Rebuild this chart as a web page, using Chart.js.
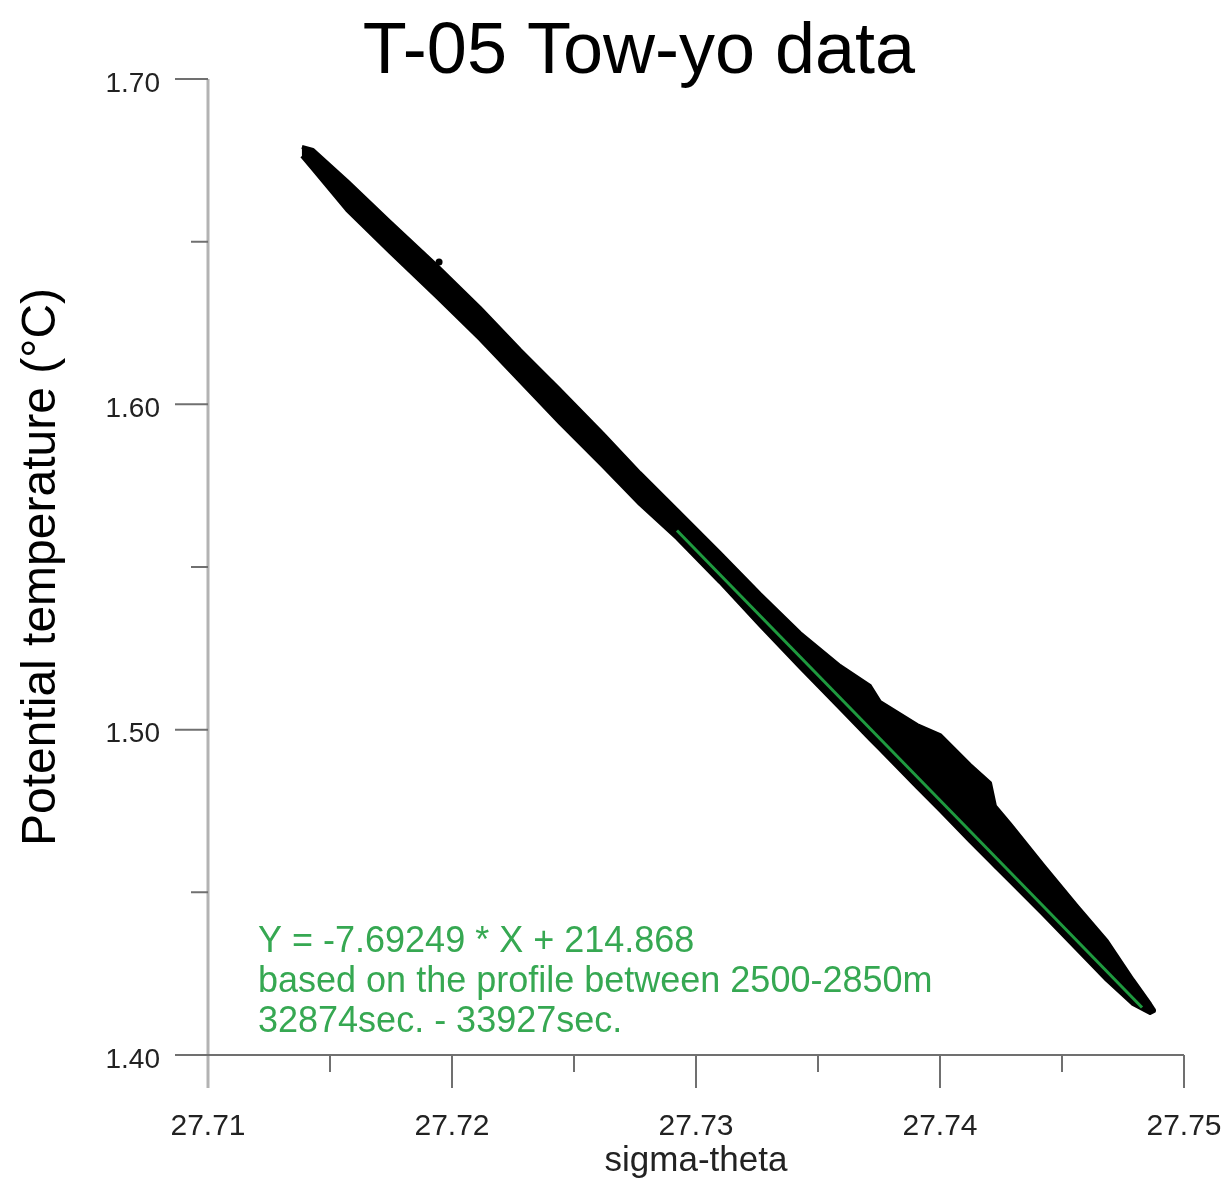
<!DOCTYPE html>
<html>
<head>
<meta charset="utf-8">
<title>T-05 Tow-yo data</title>
<script src="https://cdn.jsdelivr.net/npm/chart.js@4.4.1/dist/chart.umd.min.js"></script>
<style>
    html, body { margin: 0; padding: 0; background: #fff; }
    #wrap { width: 1227px; height: 1189px; position: relative; }
</style>
</head>
<body>
<div id="wrap"><canvas id="towyoChart"></canvas></div>
<script>
// axis ranges and ticks
const sigmaMin = 27.71, sigmaMax = 27.75;
const thetaMin = 1.40, thetaMax = 1.70;
const sigmaTicks = [27.71, 27.72, 27.73, 27.74, 27.75];
const sigmaMinorTicks = [27.715, 27.725, 27.735, 27.745];
const thetaTicks = [1.40, 1.50, 1.60, 1.70];
const thetaMinorTicks = [1.45, 1.55, 1.65];

// outline of the tow-yo point cloud, upper and lower edge
const edgeSigma = [27.71385, 27.71430, 27.71570, 27.71746, 27.71939, 27.72115, 27.72279, 27.72443,
    27.72619, 27.72770, 27.72922, 27.73098, 27.73262, 27.73426, 27.73590, 27.73713, 27.73754,
    27.73906, 27.74000, 27.74123, 27.74205, 27.74225, 27.74287, 27.74422, 27.74561, 27.74684,
    27.74791, 27.74861, 27.74877];
const thetaUpper = [1.67910, 1.67818, 1.66865, 1.65604, 1.64252, 1.62961, 1.61670, 1.60440,
    1.59088, 1.57889, 1.56752, 1.55430, 1.54170, 1.52971, 1.51957, 1.51342, 1.50850,
    1.50143, 1.49836, 1.48914, 1.48360, 1.47653, 1.47100, 1.45840, 1.44580, 1.43504,
    1.42305, 1.41567, 1.41383];
const thetaLower = [1.67633, 1.67234, 1.65973, 1.64682, 1.63299, 1.62008, 1.60717, 1.59426,
    1.58104, 1.56936, 1.55891, 1.54539, 1.53217, 1.51926, 1.50666, 1.49713, 1.49406,
    1.48237, 1.47531, 1.46578, 1.45963, 1.45809, 1.45348, 1.44334, 1.43258, 1.42305,
    1.41567, 1.41291, 1.41352];

// stray point near the top of the cloud
const straySigma = [27.71947];
const strayTheta = [1.64375];

// linear fit, 2500-2850m
const fitSigma = [27.72922, 27.74828];
const fitTheta = [1.5612, 1.4146];

const fitLabel = [
    'Y = -7.69249 * X + 214.868',
    'based on the profile between 2500-2850m',
    '32874sec. - 33927sec.'
];

Chart.defaults.font.family = "'Liberation Sans', Arial, sans-serif";

// closed outline: along the upper edge, back along the lower edge
const bandPoints = edgeSigma.map((s, i) => ({ x: s, y: thetaUpper[i] }))
    .concat(edgeSigma.map((s, i) => ({ x: s, y: thetaLower[i] })).reverse());
const fitPoints = fitSigma.map((s, i) => ({ x: s, y: fitTheta[i] }));
const strayPoints = straySigma.map((s, i) => ({ x: s, y: strayTheta[i] }));

// tick marks, axis lines, title and fit note
const axisMarks = {
    id: 'axisMarks',
    afterDraw(chart) {
        const { ctx, scales: { x, y } } = chart;
        const left = x.getPixelForValue(sigmaMin);
        const right = x.getPixelForValue(sigmaMax);
        const top = y.getPixelForValue(thetaMax);
        const bottom = y.getPixelForValue(thetaMin);
        const major = 33, minor = 17;

        ctx.save();
        ctx.lineCap = 'butt';

        // y axis
        ctx.strokeStyle = '#b3b3b3';
        ctx.lineWidth = 3;
        ctx.beginPath();
        ctx.moveTo(left, top);
        ctx.lineTo(left, bottom + major);
        ctx.stroke();

        // x axis
        ctx.strokeStyle = '#707070';
        ctx.lineWidth = 2;
        ctx.beginPath();
        ctx.moveTo(left - major, bottom);
        ctx.lineTo(right, bottom);
        ctx.stroke();

        ctx.beginPath();
        sigmaTicks.slice(1).forEach(v => {
            const px = x.getPixelForValue(v);
            ctx.moveTo(px, bottom);
            ctx.lineTo(px, bottom + major);
        });
        sigmaMinorTicks.forEach(v => {
            const px = x.getPixelForValue(v);
            ctx.moveTo(px, bottom);
            ctx.lineTo(px, bottom + minor);
        });
        thetaTicks.slice(1).forEach(v => {
            const py = y.getPixelForValue(v);
            ctx.moveTo(left - major, py);
            ctx.lineTo(left, py);
        });
        thetaMinorTicks.forEach(v => {
            const py = y.getPixelForValue(v);
            ctx.moveTo(left - minor, py);
            ctx.lineTo(left, py);
        });
        ctx.stroke();

        // title
        ctx.fillStyle = '#000';
        ctx.font = "72px 'Liberation Sans', Arial, sans-serif";
        ctx.textAlign = 'center';
        ctx.textBaseline = 'alphabetic';
        ctx.fillText('T-05 Tow-yo data', 639, 73);

        // fit note
        ctx.fillStyle = '#36a852';
        ctx.font = "36px 'Liberation Sans', Arial, sans-serif";
        ctx.textAlign = 'left';
        fitLabel.forEach((t, i) => {
            ctx.fillText(t, 258, 952 + i * 40);
        });
        ctx.restore();
    }
};

const newChart = new Chart(document.getElementById('towyoChart'), {
    type: 'scatter',
    data: {
        datasets: [{
            label: 'fit',
            data: fitPoints,
            showLine: true,
            borderColor: '#1f9a3f',
            borderWidth: 3,
            pointRadius: 0,
            fill: false
        }, {
            label: 'stray',
            data: strayPoints,
            pointRadius: 3.5,
            pointBackgroundColor: '#000',
            pointBorderWidth: 0
        }, {
            label: 'tow-yo',
            data: bandPoints,
            showLine: true,
            borderColor: '#000',
            backgroundColor: '#000',
            borderWidth: 4,
            borderJoinStyle: 'round',
            pointRadius: 0,
            fill: 'shape'
        }]
    },
    options: {
        responsive: true,
        maintainAspectRatio: false,
        animation: false,
        events: [],
        layout: { padding: { left: 0, right: 43, top: 79, bottom: 0 } },
        plugins: {
            legend: { display: false },
            tooltip: { enabled: false }
        },
        scales: {
            x: {
                type: 'linear',
                min: sigmaMin,
                max: sigmaMax,
                afterBuildTicks: s => { s.ticks = sigmaTicks.map(v => ({ value: v })); },
                afterFit: s => { s.height = 134; s.paddingLeft = 0; s.paddingRight = 0; },
                grid: { display: false, drawTicks: false },
                border: { display: false },
                ticks: {
                    callback: v => v.toFixed(2),
                    font: { size: 30 },
                    color: '#222',
                    padding: 54,
                    maxRotation: 0,
                    autoSkip: false
                },
                title: {
                    display: true,
                    text: 'sigma-theta',
                    font: { size: 35 },
                    color: '#222',
                    padding: { top: 0, bottom: 7 }
                }
            },
            y: {
                type: 'linear',
                min: thetaMin,
                max: thetaMax,
                afterBuildTicks: s => { s.ticks = thetaTicks.map(v => ({ value: v })); },
                afterFit: s => { s.width = 208; s.paddingTop = 0; s.paddingBottom = 0; },
                grid: { display: false, drawTicks: false },
                border: { display: false },
                ticks: {
                    callback: v => v.toFixed(2),
                    font: { size: 28 },
                    color: '#222',
                    padding: 48,
                    labelOffset: 5
                },
                title: {
                    display: true,
                    text: 'Potential temperature (°C)',
                    font: { size: 48 },
                    color: '#000',
                    padding: { top: 13, bottom: 0 }
                }
            }
        }
    },
    plugins: [axisMarks]
});
</script>
</body>
</html>
